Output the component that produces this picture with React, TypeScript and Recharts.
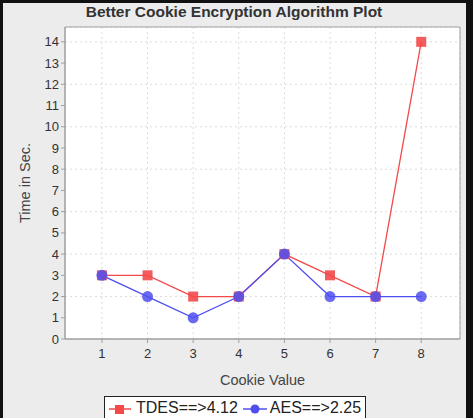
import {
  CartesianGrid,
  Line,
  LineChart,
  ReferenceArea,
  XAxis,
  YAxis,
} from "recharts";

const cookies = [1, 2, 3, 4, 5, 6, 7, 8];
const tdes = [3, 3, 2, 2, 4, 3, 2, 14];
const aes = [3, 2, 1, 2, 4, 2, 2, 2];
const yTicks = [0, 1, 2, 3, 4, 5, 6, 7, 8, 9, 10, 11, 12, 13, 14];

const RED = "#f24a4a";
const BLUE = "#4f4ff0";
const font = "'Liberation Sans', Arial, sans-serif";

const chartData = cookies.map((c, i) => ({ x: c, tdes: tdes[i], aes: aes[i] }));

const Square = (props: any) => {
  const { cx, cy, index } = props;
  return (
    <rect
      key={"sq" + index}
      x={cx - 5}
      y={cy - 5}
      width={10}
      height={10}
      fill={RED}
      fillOpacity={0.9}
    />
  );
};

const Circle = (props: any) => {
  const { cx, cy, index } = props;
  return <circle key={"ci" + index} cx={cx} cy={cy} r={5.5} fill={BLUE} fillOpacity={0.85} />;
};

// y axis title, centred on the plot height
const YTitle = (props: any) => {
  const { viewBox } = props;
  const cy = viewBox.y + viewBox.height / 2;
  return (
    <text
      x={25}
      y={cy}
      transform={`rotate(-90 25 ${cy})`}
      textAnchor="middle"
      dominantBaseline="central"
      fill="#444"
      fontSize={14.5}
      fontFamily={font}
    >
      Time in Sec.
    </text>
  );
};

export default function App() {
  return (
    <div
      style={{
        position: "fixed",
        left: 0,
        top: 0,
        width: 473,
        height: 418,
        background: "#ececec",
        fontFamily: font,
        overflow: "hidden",
      }}
    >
      <div
        style={{
          position: "absolute",
          left: 0,
          top: 0,
          width: 473,
          height: 418,
          boxSizing: "border-box",
          borderLeft: "3px solid #111",
          borderTop: "3px solid #111",
          borderRight: "7px solid #111",
          pointerEvents: "none",
          zIndex: 2,
        }}
      />
      <div
        style={{
          position: "absolute",
          top: 3,
          left: 0,
          width: 468,
          textAlign: "center",
          fontWeight: "bold",
          fontSize: 15.5,
          color: "#333",
        }}
      >
        Better Cookie Encryption Algorithm Plot
      </div>
      <LineChart
        width={473}
        height={418}
        data={chartData}
        margin={{ top: 27, right: 13, left: 25, bottom: 22 }}
        style={{ position: "absolute", left: 0, top: 0 }}
      >
        <CartesianGrid stroke="#dcdcdc" strokeDasharray="2 3" fill="#ffffff" />
        <ReferenceArea
          x1={0.19}
          x2={8.85}
          y1={0}
          y2={14.7}
          fill="none"
          stroke="#a0a0a0"
          ifOverflow="visible"
        />
        <XAxis
          type="number"
          dataKey="x"
          domain={[0.19, 8.85]}
          ticks={cookies}
          allowDataOverflow
          height={57}
          stroke="#a0a0a0"
          tickSize={4}
          tickMargin={6}
          tick={{ fill: "#333", fontSize: 13, fontFamily: font }}
          label={{
            value: "Cookie Value",
            position: "insideBottom",
            offset: 11,
            fill: "#444",
            fontSize: 14.5,
            fontFamily: font,
          }}
        />
        <YAxis
          type="number"
          domain={[0, 14.7]}
          ticks={yTicks}
          allowDataOverflow
          width={40}
          stroke="#a0a0a0"
          tickSize={4}
          tick={{ fill: "#333", fontSize: 13, fontFamily: font }}
          label={<YTitle />}
        />
        <Line
          dataKey="tdes"
          stroke={RED}
          strokeWidth={1.3}
          dot={Square}
          isAnimationActive={false}
        />
        <Line
          dataKey="aes"
          stroke={BLUE}
          strokeWidth={1.3}
          dot={Circle}
          isAnimationActive={false}
        />
      </LineChart>
      <div
        style={{
          position: "absolute",
          left: 104,
          top: 396,
          width: 262,
          height: 30,
          boxSizing: "border-box",
          border: "1px solid #222",
          background: "#ffffff",
          display: "flex",
          alignItems: "flex-start",
          fontSize: 16,
          lineHeight: "22px",
          color: "#222",
          whiteSpace: "nowrap",
        }}
      >
        <svg width={24} height={22} style={{ marginLeft: 3, flexShrink: 0 }}>
          <line x1={1} y1={12} x2={23} y2={12} stroke={RED} strokeWidth={1.5} />
          <rect x={7} y={8} width={9} height={9} fill={RED} />
        </svg>
        <span style={{ marginLeft: 4 }}>TDES==&gt;4.12</span>
        <svg width={26} height={22} style={{ marginLeft: 4, flexShrink: 0 }}>
          <line x1={1} y1={12} x2={25} y2={12} stroke={BLUE} strokeWidth={1.5} />
          <circle cx={13} cy={12} r={4.5} fill={BLUE} />
        </svg>
        <span style={{ marginLeft: 2 }}>AES==&gt;2.25</span>
      </div>
    </div>
  );
}
